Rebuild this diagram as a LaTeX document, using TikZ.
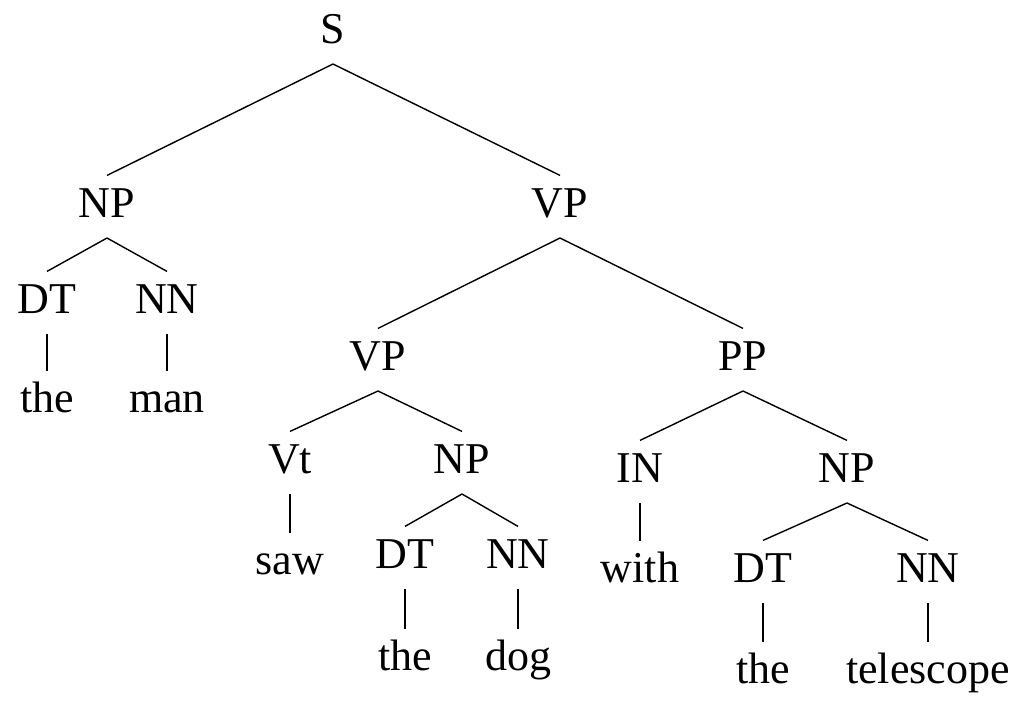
\documentclass[tikz,border=0pt]{standalone}
\usepackage{fontspec}
\setmainfont{Liberation Serif}
\begin{document}
\begin{tikzpicture}[
    x=0.5pt, y=-0.5pt,
    tag/.style={anchor=base, font=\fontsize{22}{26}\selectfont,
      text height=14.6pt, text depth=4.3pt, inner xsep=0pt, inner ysep=6pt},
    word/.style={tag, inner ysep=5.6pt},
    branch/.style={line width=0.7pt, draw=black},
  ]
  \useasboundingbox (0,0) rectangle (1030,708);

  % -------------------------------------------------------
  %  Root and subject
  % -------------------------------------------------------
  \node[tag] (s) at (333,43) {S};
  \node[tag] (np1) at (107,217) {NP};
  \node[tag] (vp1) at (560,217) {VP};

  \node[tag] (dt1) at (47,313) {DT};
  \node[tag] (nn1) at (167,313) {NN};
  \node[word] (the1) at (47,412) {the};
  \node[word] (man) at (167,412) {man};

  % -------------------------------------------------------
  %  Inner verb phrase
  % -------------------------------------------------------
  \node[tag] (vp2) at (378,370) {VP};
  \node[tag] (vt) at (290,473) {Vt};
  \node[tag] (np2) at (462,473) {NP};
  \node[word] (saw) at (290,574) {saw};

  \node[tag] (dt2) at (405,568) {DT};
  \node[tag] (nn2) at (518,568) {NN};
  \node[word] (the2) at (405,670) {the};
  \node[word] (dog) at (518,670) {dog};

  % -------------------------------------------------------
  %  Prepositional phrase
  % -------------------------------------------------------
  \node[tag] (pp) at (743,370) {PP};
  \node[tag] (prep) at (640,482) {IN};
  \node[tag] (np3) at (847,482) {NP};
  \node[word] (with) at (640,582) {with};

  \node[tag] (dt3) at (763,582) {DT};
  \node[tag] (nn3) at (928,582) {NN};
  \node[word] (the3) at (763,683) {the};
  \node[word] (telescope) at (928,683) {telescope};

  % Edges, parent to child
  \foreach \p/\c in {s/np1, s/vp1, np1/dt1, np1/nn1, dt1/the1, nn1/man,
      vp1/vp2, vp1/pp, vp2/vt, vp2/np2, vt/saw, np2/dt2, np2/nn2,
      dt2/the2, nn2/dog, pp/prep, pp/np3, prep/with, np3/dt3, np3/nn3,
      dt3/the3, nn3/telescope} {
    \draw[branch] (\p.south) -- (\c.north);
  }

\end{tikzpicture}
\end{document}
